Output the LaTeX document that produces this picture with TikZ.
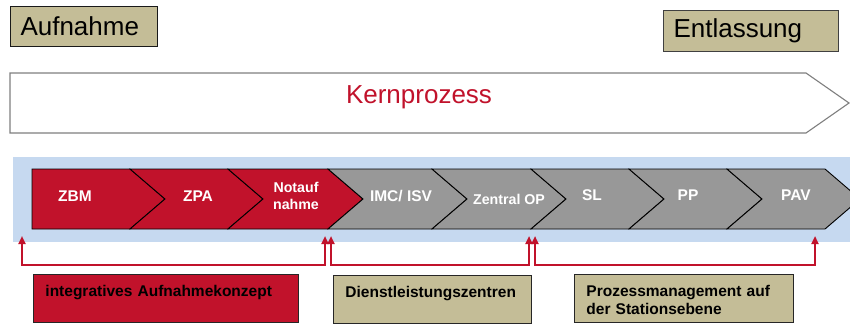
\documentclass[tikz,border=0pt]{standalone}
\usepackage{fontspec}
\setmainfont{Liberation Sans}
\definecolor{clRed}{HTML}{C1122B}
\definecolor{clGray}{HTML}{989898}
\definecolor{clTan}{HTML}{C4BD97}
\definecolor{clBand}{HTML}{C6D9F0}
\definecolor{clOutline}{HTML}{7F7F7F}
\usetikzlibrary{arrows.meta,positioning,calc}
\tikzset{
  phase/.style={rectangle, draw=black!90, fill=clTan, line width=1pt, anchor=north west,
                align=left, inner xsep=10pt, font=\fontsize{26}{30}\selectfont},
  chevron/.style={draw=black, line width=0.9pt},
  steplabel/.style={text=white, inner sep=0pt, align=center,
                    font=\bfseries\fontsize{15.5}{17}\selectfont},
  smalllabel/.style={steplabel, font=\bfseries\fontsize{14.2}{17.5}\selectfont},
  area/.style={rectangle, draw=black!85, line width=0.9pt, anchor=north west, align=left,
               inner xsep=12pt, inner ysep=10pt, text height=12pt, text depth=16pt,
               font=\bfseries\fontsize{15.5}{18}\selectfont},
  bracket/.style={{Triangle[length=8pt,width=7pt]}-{Triangle[length=8pt,width=7pt]},
                  draw=clRed, line width=2pt},
}

\begin{document}
\begin{tikzpicture}[x=1pt, y=-1pt]
  \clip (0,0) rectangle (850,325);

  \node[phase, text width=127pt, minimum height=40pt] (aufnahme) at (10,6) {Aufnahme};
  \node[phase, draw=black!75, text width=155pt, minimum height=41pt] (entlassung) at (663,10) {Entlassung};

  % core process arrow
  \draw[clOutline, line width=1.1pt, fill=white]
    (10,73) -- (806,73) -- (849,103) -- (806,133) -- (10,133) -- cycle;
  \node[font=\fontsize{26}{30}\selectfont, text=clRed] (kern) at (419,97) {Kernprozess};

  % chevron band
  \fill[clBand] (13,157) rectangle (850,242);
  \draw[chevron, fill=clRed] (32,169) -- (130,169) -- (165,199) -- (130,229) -- (32,229) -- cycle;
  \foreach \xa/\xb/\col in {130/228/clRed, 228/328/clRed, 328/432/clGray, 432/531/clGray,
                            531/629/clGray, 629/727/clGray, 727/825/clGray}
    \draw[chevron, fill=\col] (\xa,169) -- (\xb,169) -- (\xb+35,199) -- (\xb,229)
      -- (\xa,229) -- (\xa+35,199) -- cycle;

  \node[steplabel] (zbm) at (75,196) {ZBM};
  \node[steplabel] (zpa) at (198,196) {ZPA};
  \node[smalllabel] (notauf) at (296,196) {Notauf\\nahme};
  \node[steplabel] (imc) at (401,196) {IMC/ ISV};
  \node[smalllabel] (op) at (509,199) {Zentral OP};
  \node[steplabel] (sl) at (592,195) {SL};
  \node[steplabel] (pp) at (688,195) {PP};
  \node[steplabel] (pav) at (796,195) {PAV};

  % brackets under the band
  \coordinate (b1l) at (22,236);  \coordinate (b1r) at (325,236);
  \coordinate (b2l) at (331,236); \coordinate (b2r) at (529,236);
  \coordinate (b3l) at (535,236); \coordinate (b3r) at (815,236);
  \draw[bracket] (b1l) -- ++(0,29) -| (b1r);
  \draw[bracket] (b2l) -- ++(0,29) -| (b2r);
  \draw[bracket] (b3l) -- ++(0,29) -| (b3r);

  \node[area, fill=clRed, text width=241pt] (integ) at (33,274) {integratives Aufnahmekonzept};
  \node[area, fill=clTan, text width=174pt] (dienst) at (333,275) {Dienstleistungszentren};
  \node[area, fill=clTan, text width=195pt] (stationen) at (574,274) {Prozessmanagement auf\\der Stationsebene};
\end{tikzpicture}
\end{document}
